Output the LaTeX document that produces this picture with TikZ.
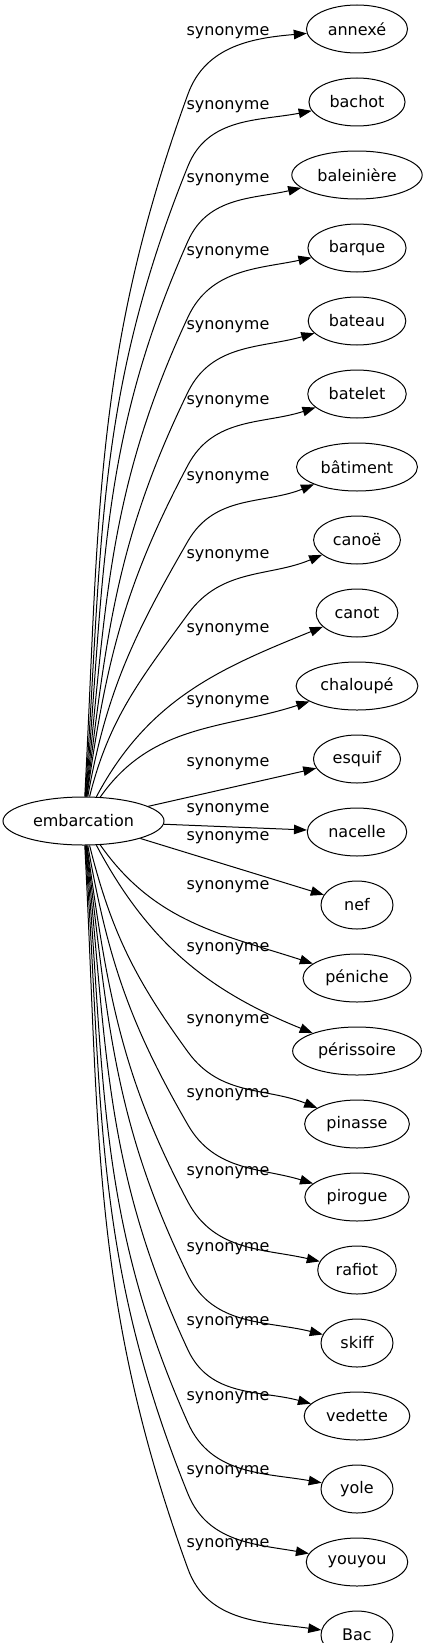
\documentclass[tikz,border=0pt]{standalone}
\usepackage{fontspec}
\setmainfont{DejaVu Sans}
\usetikzlibrary{shapes.geometric, arrows.meta, positioning}
\newcommand{\lblfont}{\fontsize{16pt}{19pt}\selectfont}

\begin{document}
\begin{tikzpicture}[
  x=1pt, y=1pt,
  w/.style={ellipse, draw, line width=1pt, minimum width=72pt,
            minimum height=48pt, inner xsep=6.5pt, inner ysep=3pt, font=\lblfont},
  a/.style={-{Triangle[length=13pt, width=9.5pt]}, line width=1pt},
  l/.style={inner sep=0pt, font=\lblfont},
  node distance=24pt,
]
  \useasboundingbox (0,0) rectangle (433,-1643);

  \node[w] (emb) at (83.5,-821) {embarcation};

  \node[w] (annexe) at (357,-29) {annexé};
  \node[w, below=of annexe]     (bachot)     {bachot};
  \node[w, below=of bachot]     (baleiniere) {baleinière};
  \node[w, below=of baleiniere] (barque)     {barque};
  \node[w, below=of barque]     (bateau)     {bateau};
  \node[w, below=of bateau]     (batelet)    {batelet};
  \node[w, below=of batelet]    (batiment)   {bâtiment};
  \node[w, below=of batiment]   (canoe)      {canoë};
  \node[w, below=of canoe]      (canot)      {canot};
  \node[w, below=of canot]      (chaloupe)   {chaloupé};
  \node[w, below=of chaloupe]   (esquif)     {esquif};
  \node[w, below=of esquif]     (nacelle)    {nacelle};
  \node[w, below=of nacelle]    (nef)        {nef};
  \node[w, below=of nef]        (peniche)    {péniche};
  \node[w, below=of peniche]    (perissoire) {périssoire};
  \node[w, below=of perissoire] (pinasse)    {pinasse};
  \node[w, below=of pinasse]    (pirogue)    {pirogue};
  \node[w, below=of pirogue]    (rafiot)     {rafiot};
  \node[w, below=of rafiot]     (skiff)      {skiff};
  \node[w, below=of skiff]      (vedette)    {vedette};
  \node[w, below=of vedette]    (yole)       {yole};
  \node[w, below=of yole]       (youyou)     {youyou};
  \node[w, below=of youyou]     (bac)        {Bac};

  % above embarcation
  \draw[a] (emb) to[out=87, in=250] ([shift={(-169,-65)}]annexe.center)
    to[out=70, in=185] (annexe) node[l] at (228,-33) {synonyme};
  \draw[a] (emb) to[out=86, in=248] ([shift={(-169,-64)}]bachot.center)
    to[out=68, in=191] (bachot) node[l] at (228,-107) {synonyme};
  \draw[a] (emb) to[out=85, in=246] ([shift={(-169,-66)}]baleiniere.center)
    to[out=66, in=193] (baleiniere) node[l] at (228,-180) {synonyme};
  \draw[a] (emb) to[out=84, in=245] ([shift={(-169,-69)}]barque.center)
    to[out=65, in=192] (barque) node[l] at (228,-253) {synonyme};
  \draw[a] (emb) to[out=83, in=244] ([shift={(-169,-71)}]bateau.center)
    to[out=64, in=196] (bateau) node[l] at (228,-327) {synonyme};
  \draw[a] (emb) to[out=82, in=242] ([shift={(-169,-71)}]batelet.center)
    to[out=62, in=198] (batelet) node[l] at (228,-402) {synonyme};
  \draw[a] (emb) to[out=80, in=240] ([shift={(-169,-74)}]batiment.center)
    to[out=60, in=202] (batiment) node[l] at (228,-478) {synonyme};
  \draw[a] (emb) to[out=76, in=234] ([shift={(-169,-74)}]canoe.center)
    to[out=54, in=203] (canoe) node[l] at (228,-556) {synonyme};
  \draw[a] (emb) to[out=62, in=202] (canot) node[l] at (228,-630) {synonyme};
  \draw[a] (emb) to[out=55, in=198] (chaloupe) node[l] at (228,-702) {synonyme};

  % straight ones
  \draw[a] (emb) -- (esquif) node[l] at (228,-764) {synonyme};
  \draw[a] (emb) -- (nacelle) node[l] at (228,-810) {synonyme};
  \draw[a] (emb) -- (nef) node[l] at (228,-838) {synonyme};

  % below embarcation
  \draw[a] (emb) to[out=-55, in=162] (peniche) node[l] at (228,-887) {synonyme};
  \draw[a] (emb) to[out=-62, in=158] (perissoire) node[l] at (228,-949) {synonyme};
  \draw[a] (emb) to[out=-76, in=126] ([shift={(-169,72)}]pinasse.center)
    to[out=-54, in=158] (pinasse) node[l] at (228,-1021) {synonyme};
  \draw[a] (emb) to[out=-80, in=120] ([shift={(-169,72)}]pirogue.center)
    to[out=-60, in=163] (pirogue) node[l] at (228,-1095) {synonyme};
  \draw[a] (emb) to[out=-82, in=118] ([shift={(-169,68)}]rafiot.center)
    to[out=-62, in=167] (rafiot) node[l] at (228,-1173) {synonyme};
  \draw[a] (emb) to[out=-83, in=116] ([shift={(-169,68)}]skiff.center)
    to[out=-64, in=166] (skiff) node[l] at (228,-1249) {synonyme};
  \draw[a] (emb) to[out=-84, in=115] ([shift={(-169,66)}]vedette.center)
    to[out=-65, in=165] (vedette) node[l] at (228,-1323) {synonyme};
  \draw[a] (emb) to[out=-85, in=114] ([shift={(-169,66)}]yole.center)
    to[out=-66, in=170] (yole) node[l] at (228,-1398) {synonyme};
  \draw[a] (emb) to[out=-86, in=112] ([shift={(-169,68)}]youyou.center)
    to[out=-68, in=170] (youyou) node[l] at (228,-1472) {synonyme};
  \draw[a] (emb) to[out=-87, in=110] ([shift={(-169,66)}]bac.center)
    to[out=-70, in=172] (bac) node[l] at (228,-1545) {synonyme};
\end{tikzpicture}
\end{document}
